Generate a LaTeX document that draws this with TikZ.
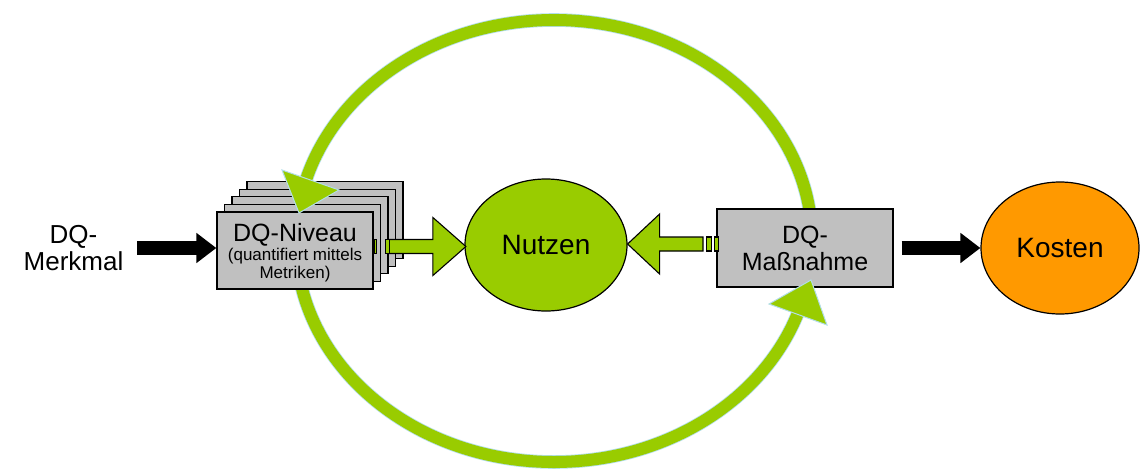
\documentclass[tikz,border=0pt]{standalone}
\usepackage{fontspec}
\setmainfont{Liberation Sans}
\usetikzlibrary{calc,arrows.meta,shapes.geometric}
\definecolor{dqgreen}{RGB}{153,204,0}
\definecolor{dqgray}{RGB}{192,192,192}
\definecolor{dqorange}{RGB}{255,153,0}
\definecolor{halo}{RGB}{178,222,232}
\begin{document}
\begin{tikzpicture}[x=1pt,y=-1pt,
  card/.style={draw=black, line width=1.3pt, fill=dqgray,
    minimum width=156pt, minimum height=77pt, inner sep=0pt},
  blob/.style={draw=black, line width=1.2pt, ellipse, inner sep=0pt},
  gblock/.style={draw=black, line width=1.1pt, fill=dqgreen},
  blackarrow/.style={draw=black, line width=13.5pt,
    -{Triangle[length=20pt,width=29pt]}},
  ringtip/.style={fill=dqgreen, draw=halo, line width=1pt, line join=miter}]
\useasboundingbox (0,0) rectangle (1140,469);

% feedback ring
\draw[halo, line width=13.6pt] (554,241) ellipse [x radius=258pt, y radius=221pt];
\draw[dqgreen, line width=12pt] (554,241) ellipse [x radius=258pt, y radius=221pt];

% stacked level cards
\foreach \i in {4,3,2,1}
  \node[card] (niv\i) at ({295+7.5*\i},{250.5-7.6*\i}) {};
\node[card] (niv) at (295,250.5) {};
\node[align=center, font=\fontsize{17}{18.6}\selectfont] (nivtext) at (295,253)
  {{\fontsize{25}{19}\selectfont DQ-Niveau}\\(quantifiert mittels\\Metriken)};

% measure card
\node[card, minimum width=176pt, minimum height=78pt, align=center,
  font=\fontsize{25}{27}\selectfont] (massn) at (805,248) {DQ-\\Maßnahme};

% ring arrow heads
\draw[ringtip] (282,170) -- (339,190) -- (299,213) -- cycle;
\draw[ringtip] (811,280) -- (769,304) -- (827,325) -- cycle;

% benefit and cost
\node[blob, fill=dqgreen, minimum width=162pt, minimum height=132pt,
  font=\fontsize{28}{30}\selectfont] (nutzen) at (546,245) {Nutzen};
\node[blob, fill=dqorange, minimum width=158pt, minimum height=132pt,
  font=\fontsize{28}{30}\selectfont] (kosten) at (1060,248) {Kosten};

% characteristic label
\node[align=center, font=\fontsize{26}{27}\selectfont] (merk) at (73.5,248.5) {DQ-\\Merkmal};

% black input and output arrows
\coordinate (mstart) at (137,248);
\draw[blackarrow] (mstart) -- (mstart -| niv.west);
\draw[blackarrow] ($(massn.east)+(8,0)$) -- (kosten.west);

% green block arrow from the level cards
\coordinate (lt) at ($(nutzen.west)+(1.5,1.5)$);
\draw[gblock] (lt) -- ++(-33,-29) -- ++(0,22) -- ++(-44,0) -- ++(0,14)
  -- ++(44,0) -- ++(0,22) -- cycle;
\draw[gblock] ($(lt)+(-80.7,-7)$) rectangle ++(4.3,14);
\draw[gblock] ($(lt)+(-91.7,-7)$) rectangle ++(2.3,14);

% green block arrow from the measure card
\coordinate (rt) at ($(nutzen.east)+(0,-1)$);
\draw[gblock] (rt) -- ++(32,-30) -- ++(0,23) -- ++(43.4,0) -- ++(0,14)
  -- ++(-43.4,0) -- ++(0,23) -- cycle;
\draw[gblock] ($(rt)+(79,-7)$) rectangle ++(4.7,14);
\draw[gblock] ($(rt)+(87.3,-7)$) rectangle ++(3.4,14);
\end{tikzpicture}
\end{document}
